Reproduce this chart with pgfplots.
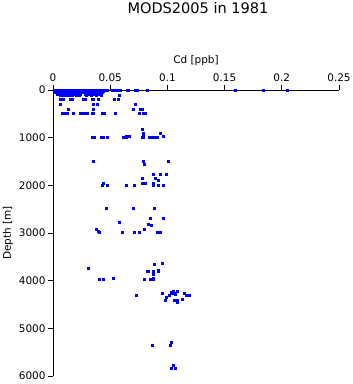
\documentclass[border=0pt]{standalone}
\usepackage{pgfplots}
\pgfplotsset{compat=1.18}
\usepackage{fontspec}
\setmainfont{DejaVu Sans}
\begin{document}
\begin{tikzpicture}
\useasboundingbox (-53bp,-8bp) rectangle (300bp,376bp);
\begin{axis}[
  scale only axis,
  width=286bp, height=286bp,
  xmin=0, xmax=0.25, ymin=0, ymax=6000,
  y dir=reverse,
  axis x line=top, axis y line=left,
  axis line style={line width=0.7pt,-},
  tick style={line width=0.7pt,black},
  tick align=outside,
  major tick length=5bp,
  xtick={0,0.05,0.1,0.15,0.2,0.25},
  xticklabels={0,0.05,0.1,0.15,0.2,0.25},
  ytick={0,1000,2000,3000,4000,5000,6000},
  yticklabels={0,1000,2000,3000,4000,5000,6000},
  ticklabel style={font=\fontsize{10.5}{12}\selectfont},
  xticklabel style={yshift=0bp},
  yticklabel style={xshift=1bp},
  xlabel={Cd [ppb]},
  ylabel={Depth [m]},
  label style={font=\fontsize{10.5}{12}\selectfont},
  xlabel style={at={(axis description cs:0.5,1)}, anchor=center, yshift=29bp},
  ylabel style={at={(axis description cs:-0.157,0.5)}, anchor=center, rotate=0},
  clip=false,
]
\addplot[only marks, mark=square*, mark size=1.15pt, color=blue, mark options={draw=blue, fill=blue}] coordinates {
(0.001,0)(0.003,0)(0.005,0)(0.007,0)(0.009,0)(0.011,0)(0.013,0)(0.015,0)(0.017,0)(0.019,0)(0.021,0)(0.023,0)(0.025,0)(0.027,0)(0.029,0)(0.031,0)(0.033,0)(0.035,0)(0.037,0)(0.039,0)(0.041,0)(0.043,0)(0.045,0)
(0.0472,0)(0.0516,0)(0.0542,0)(0.0559,0)(0.0586,0)(0.0647,0)(0.0656,0)(0.0717,0)(0.0734,0)(0.0822,0)(0.159,0)(0.1836,0)(0.2045,0)
(0.002,25)(0.004,25)(0.006,25)(0.008,25)(0.010,25)(0.012,25)(0.014,25)(0.016,25)(0.018,25)(0.020,25)(0.022,25)(0.024,25)(0.026,25)(0.028,25)(0.030,25)(0.032,25)(0.034,25)(0.036,25)(0.038,25)(0.040,25)(0.042,25)(0.044,25)
(0.001,50)(0.003,50)(0.005,50)(0.007,50)(0.009,50)(0.011,50)(0.013,50)(0.015,50)(0.017,50)(0.019,50)(0.021,50)(0.023,50)(0.025,50)(0.027,50)(0.029,50)(0.031,50)(0.033,50)(0.035,50)(0.037,50)(0.039,50)(0.041,50)(0.043,50)
(0.004,75)(0.006,75)(0.008,75)(0.010,75)(0.012,75)(0.014,75)(0.016,75)(0.018,75)(0.020,75)(0.022,75)(0.024,75)(0.028,75)(0.030,75)(0.032,75)(0.034,75)(0.036,75)(0.038,75)(0.040,75)
(0.0061,105)(0.0087,105)(0.011,105)(0.014,105)(0.017,105)(0.020,105)(0.023,105)(0.029,105)(0.0335,105)(0.0379,105)(0.0423,105)(0.0577,105)
(0.0061,190)(0.0087,190)(0.0149,190)(0.0166,190)(0.0262,190)(0.028,190)(0.0341,190)(0.035,190)(0.0393,190)(0.0533,190)(0.0568,190)
(0.0061,294)(0.035,294)(0.0385,294)(0.0720,294)
(0.0131,400)(0.035,400)(0.0700,400)(0.0760,400)(0.0778,400)
(0.0079,490)(0.0105,490)(0.0122,490)(0.0175,490)(0.0236,490)(0.0262,490)(0.028,490)(0.0297,490)(0.0341,490)(0.035,490)(0.0428,490)(0.0446,490)(0.0542,490)(0.0752,490)(0.0787,490)(0.0804,490)
(0.0778,818)(0.0787,902)(0.0935,902)
(0.0341,990)(0.0358,990)(0.0420,990)(0.0437,990)(0.0472,990)(0.0612,990)(0.0638,980)(0.0664,975)(0.0778,990)(0.0787,980)(0.0839,985)(0.0865,990)(0.0883,990)(0.0909,990)(0.0962,975)
(0.035,1489)(0.0787,1489)(0.1005,1489)(0.0795,1552)
(0.0874,1762)(0.0935,1762)(0.0988,1770)
(0.0778,1846)(0.0892,1846)(0.0918,1890)
(0.0437,1951)(0.0778,1951)(0.0804,1960)(0.0874,1951)
(0.0428,1993)(0.0472,2000)(0.0638,1993)(0.0708,1993)(0.0874,1993)(0.0918,1993)(0.0962,1993)
(0.0463,2475)(0.0699,2475)(0.0883,2475)
(0.0848,2685)(0.0962,2685)(0.0577,2769)(0.083,2811)(0.0857,2832)
(0.0376,2916)(0.0795,2916)
(0.0393,2965)(0.0402,2979)(0.0603,2979)(0.0708,2979)(0.0752,2979)(0.0909,2979)(0.0918,2979)(0.0935,2990)
(0.0953,3629)(0.0883,3650)(0.0306,3734)
(0.0822,3797)(0.083,3797)(0.0874,3797)(0.0918,3790)(0.0874,3860)
(0.0402,3965)(0.0437,3970)(0.0524,3955)(0.0795,3965)(0.0848,3965)(0.0874,3960)
(0.1049,4216)(0.1084,4216)(0.0953,4258)(0.1031,4250)(0.1058,4258)
(0.0726,4300)(0.1014,4300)(0.1066,4290)(0.1145,4270)(0.1163,4300)(0.1189,4310)
(0.0988,4342)(0.0979,4405)(0.1058,4405)(0.1084,4410)(0.1128,4395)(0.1084,4447)
(0.1031,5286)(0.0865,5349)(0.1023,5349)
(0.1049,5769)(0.1031,5832)(0.1066,5840)
};
\node[font=\fontsize{14.6}{17}\selectfont] at (rel axis cs:0.5,1) [xshift=2bp, yshift=82bp] {MODS2005 in 1981};
\end{axis}
\end{tikzpicture}
\end{document}
